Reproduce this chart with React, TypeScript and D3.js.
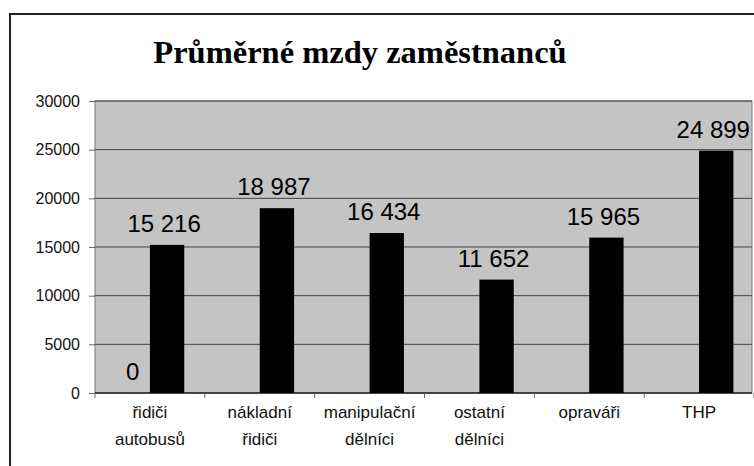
import React, { useRef, useEffect } from "react";
import * as d3 from "d3";

const categories = [
  ["řidiči", "autobusů"],
  ["nákladní", "řidiči"],
  ["manipulační", "dělníci"],
  ["ostatní", "dělníci"],
  ["opraváři"],
  ["THP"],
];
const zeroSeries = [0, null, null, null, null, null];
const wages = [15216, 18987, 16434, 11652, 15965, 24899];
const yTicks = [0, 5000, 10000, 15000, 20000, 25000, 30000];

const fmt = (v: number) => d3.format(",")(v).replace(/,/g, " ");

export default function App() {
  const ref = useRef<SVGSVGElement>(null);
  const width = 754;
  const height = 466;

  useEffect(() => {
    const svg = d3.select(ref.current);
    svg.selectAll("*").remove();

    const left = 95, right = 754, top = 101, bottom = 393;

    const x = d3.scaleBand<number>()
      .domain(d3.range(categories.length))
      .range([left, right])
      .paddingInner(0)
      .paddingOuter(0);
    // two series per category, like the excel chart
    const sub = d3.scaleBand<number>()
      .domain([0, 1])
      .range([0, x.bandwidth()])
      .paddingInner(0)
      .paddingOuter(0.6);
    const y = d3.scaleLinear().domain([0, 30000]).range([bottom, top]);

    // outer frame
    svg.append("path")
      .attr("d", `M10,${height} L10,14 L${width},14`)
      .attr("fill", "none")
      .attr("stroke", "#222")
      .attr("stroke-width", 2);

    svg.append("text")
      .attr("x", 360)
      .attr("y", 63)
      .attr("text-anchor", "middle")
      .style("font-family", "'Liberation Serif', 'Times New Roman', serif")
      .style("font-weight", "bold")
      .style("font-size", "32.5px")
      .text("Průměrné mzdy zaměstnanců");

    // plot area
    svg.append("rect")
      .attr("x", left)
      .attr("y", top)
      .attr("width", right - left - 2)
      .attr("height", bottom - top)
      .attr("fill", "#c4c4c4")
      .attr("stroke", "#777")
      .attr("stroke-width", 1);

    svg.append("g")
      .selectAll("line")
      .data(yTicks.filter(t => t > 0))
      .enter().append("line")
      .attr("x1", left)
      .attr("x2", right - 2)
      .attr("y1", d => y(d))
      .attr("y2", d => y(d))
      .attr("stroke", "#444")
      .attr("stroke-width", 1);

    const yAxis = svg.append("g")
      .attr("transform", `translate(${left},0)`)
      .call(d3.axisLeft(y).tickValues(yTicks).tickSize(6).tickPadding(9).tickFormat(d => String(d)));
    yAxis.select(".domain").remove();
    yAxis.selectAll("line").attr("stroke", "#666");
    yAxis.selectAll("text")
      .style("font-family", "'Liberation Sans', Arial, sans-serif")
      .style("font-size", "16px")
      .attr("fill", "#111");

    // x axis
    svg.append("line")
      .attr("x1", left).attr("x2", right - 2)
      .attr("y1", bottom).attr("y2", bottom)
      .attr("stroke", "#222").attr("stroke-width", 1.5);
    svg.append("g")
      .selectAll("line")
      .data(d3.range(categories.length + 1))
      .enter().append("line")
      .attr("x1", d => left + d * x.bandwidth())
      .attr("x2", d => left + d * x.bandwidth())
      .attr("y1", bottom)
      .attr("y2", bottom + 5)
      .attr("stroke", "#666");

    const labels = svg.append("g")
      .selectAll("text")
      .data(categories)
      .enter().append("text")
      .attr("x", (d, i) => x(i)! + x.bandwidth() / 2)
      .attr("y", 418)
      .attr("text-anchor", "middle")
      .style("font-family", "'Liberation Sans', Arial, sans-serif")
      .style("font-size", "17px")
      .attr("fill", "#111");
    labels.selectAll("tspan")
      .data(d => d)
      .enter().append("tspan")
      .attr("x", function () { return (this.parentNode as SVGTextElement).getAttribute("x"); })
      .attr("dy", (d, i) => (i === 0 ? 0 : 27))
      .text(d => d);

    // bars
    svg.append("g")
      .selectAll("rect")
      .data(wages)
      .enter().append("rect")
      .attr("x", (d, i) => x(i)! + sub(1)!)
      .attr("y", d => y(d))
      .attr("width", sub.bandwidth())
      .attr("height", d => bottom - y(d))
      .attr("fill", "#000");

    const labelStyle = (s: any) => s
      .attr("text-anchor", "middle")
      .style("font-family", "'Liberation Sans', Arial, sans-serif")
      .style("font-size", "24px")
      .attr("fill", "#000");

    svg.append("g")
      .selectAll("text")
      .data(wages)
      .enter().append("text")
      .attr("x", (d, i) => x(i)! + sub(1)! + sub.bandwidth() / 2 - 3)
      .attr("y", d => y(d) - 13)
      .call(labelStyle)
      .text(d => fmt(d));

    svg.append("g")
      .selectAll("text")
      .data(zeroSeries.map((v, i) => ({ v, i })).filter(d => d.v !== null))
      .enter().append("text")
      .attr("x", d => x(d.i)! + sub(0)! + sub.bandwidth() / 2)
      .attr("y", d => y(d.v as number) - 13)
      .call(labelStyle)
      .text(d => fmt(d.v as number));
  }, []);

  return (
    <svg ref={ref} width={width} height={height}
      style={{ position: "absolute", left: 0, top: 0, background: "#fff" }} />
  );
}
